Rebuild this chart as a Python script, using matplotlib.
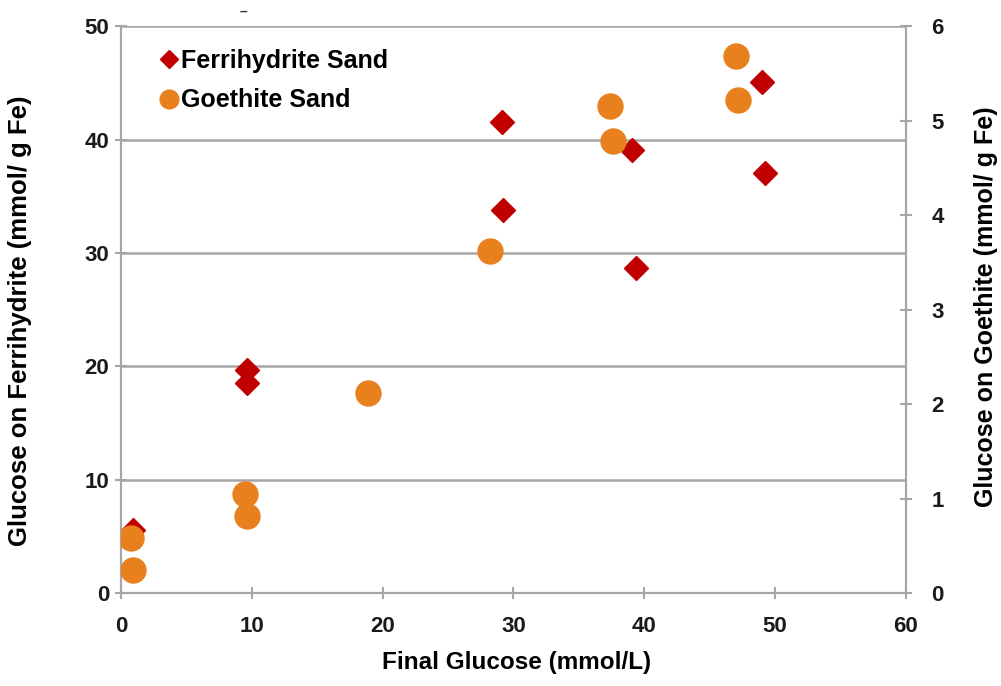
import matplotlib
matplotlib.use("Agg")
import matplotlib.pyplot as plt

plt.rcParams['font.family'] = ['Liberation Sans', 'DejaVu Sans']
plt.rcParams['font.weight'] = 'bold'

# Ferrihydrite Sand (left axis, mmol/g Fe)
ferri_x = [0.9, 9.6, 9.6, 29.1, 29.2, 39.1, 39.4, 49.0, 49.2]
ferri_y = [5.6, 19.7, 18.5, 41.6, 33.8, 39.1, 28.7, 45.1, 37.1]

# Goethite Sand (right axis, mmol/g Fe)
goe_x = [0.75, 0.9, 9.5, 9.6, 18.9, 28.2, 37.4, 37.6, 47.0, 47.2]
goe_y = [0.58, 0.24, 1.05, 0.81, 2.12, 3.62, 5.16, 4.79, 5.69, 5.22]

x_ticks = [0, 10, 20, 30, 40, 50, 60]
left_ticks = [0, 10, 20, 30, 40, 50]
right_ticks = [0, 1, 2, 3, 4, 5, 6]

red = '#C00000'
orange = '#E8801E'
gray = '#A6A6A6'

fig = plt.figure(figsize=(10.01, 6.86), dpi=100)
ax = fig.add_axes([0.1209, 0.1356, 0.784, 0.826])
ax2 = ax.twinx()

ax.set_xlim(0, 60)
ax.set_ylim(0, 50)
ax2.set_ylim(0, 6)
ax.set_xticks(x_ticks)
ax.set_yticks(left_ticks)
ax2.set_yticks(right_ticks)

ax.yaxis.grid(True, color=gray, linewidth=1.8)
ax.set_axisbelow(True)

for a in (ax, ax2):
    for s in a.spines.values():
        s.set_color(gray)
        s.set_linewidth(1.5)
    a.spines['top'].set_visible(False)
    a.tick_params(colors=gray, labelcolor='#1a1a1a', direction='inout',
                  length=9, width=1.5, labelsize=16)

ax.tick_params(axis='y', pad=4)
ax.tick_params(axis='x', pad=12)
ax2.tick_params(axis='y', pad=14)

ax.plot(ferri_x, ferri_y, linestyle='none', marker='D', markersize=12,
        color=red, label='Ferrihydrite Sand', zorder=3)
ax2.plot(goe_x, goe_y, linestyle='none', marker='o', markersize=18,
         color=orange, label='Goethite Sand', zorder=3)

ax.set_xlabel('Final Glucose (mmol/L)', fontsize=17.5, fontweight='bold')
ax.set_ylabel('Glucose on Ferrihydrite (mmol/ g Fe)', fontsize=18.5, fontweight='bold')
ax2.set_ylabel('Glucose on Goethite (mmol/ g Fe)', fontsize=18, fontweight='bold')
ax.xaxis.set_label_coords(0.5035, -0.1232)
ax.yaxis.set_label_coords(-0.1287, 0.48)
ax2.yaxis.set_label_coords(1.1026, 0.505)
ax.xaxis.label.set_va('center')
ax.yaxis.label.set_va('center')
ax2.yaxis.label.set_va('center')

h1, l1 = ax.get_legend_handles_labels()
h2, l2 = ax2.get_legend_handles_labels()
leg = ax2.legend(h1 + h2, l1 + l2, loc='upper left', bbox_to_anchor=(0.018, 1.0),
                 frameon=False, fontsize=18, handletextpad=0.05, handlelength=0.9,
                 labelspacing=0.62, markerscale=0.75)
for t in leg.get_texts():
    t.set_fontweight('bold')

fig.text(243 / 1001, 1 - 12 / 686, '\u2013', fontsize=10, ha='center', va='center', color='#333333')

fig.savefig('out.png', dpi=100)
